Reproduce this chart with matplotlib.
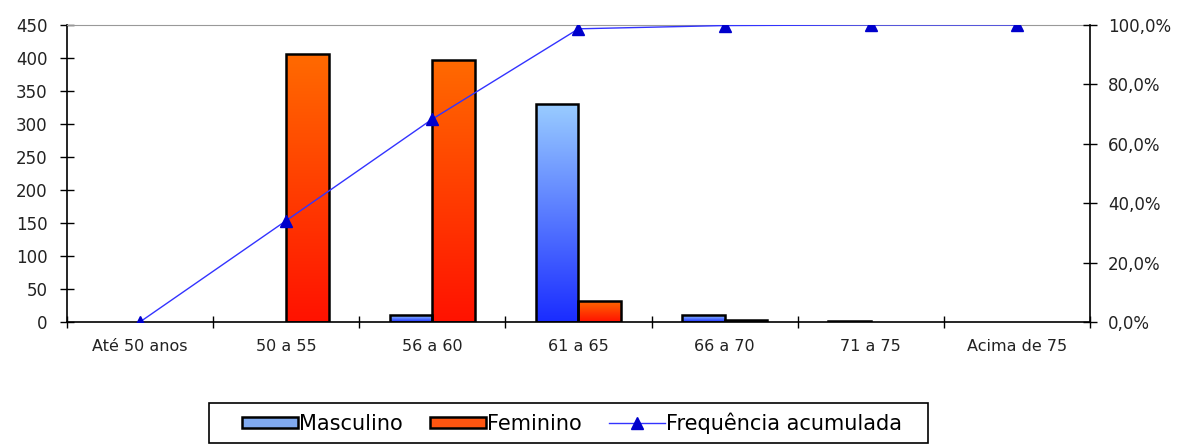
import numpy as np
import matplotlib
matplotlib.use('Agg')
from matplotlib import pyplot as plt
from matplotlib.patches import Patch, Rectangle
from matplotlib.lines import Line2D
from matplotlib.colors import LinearSegmentedColormap
from matplotlib.ticker import FuncFormatter

plt.rcParams['font.family'] = ['DejaVu Sans']

categorias = ['Até 50 anos', '50 a 55', '56 a 60', '61 a 65', '66 a 70', '71 a 75', 'Acima de 75']
masculino = [0, 0, 10, 330, 10, 2, 0]
feminino = [0, 406, 397, 32, 3, 0, 0]
freq_acumulada = [0.0, 34.1, 68.3, 98.7, 99.8, 100.0, 100.0]

cmap_masc = LinearSegmentedColormap.from_list('masc', ['#1a2cff', '#99ccff'])
cmap_fem = LinearSegmentedColormap.from_list('fem', ['#ff1200', '#ff6a00'])

fig = plt.figure(figsize=(11.83, 4.44), dpi=100)
ax = fig.add_axes([0.0566, 0.275, 0.8648, 0.6688])

x = np.arange(len(categorias))
w = 0.29
bars_m = ax.bar(x - w / 2, masculino, w, facecolor='none', edgecolor='black', linewidth=1.8, zorder=3)
bars_f = ax.bar(x + w / 2, feminino, w, facecolor='none', edgecolor='black', linewidth=1.8, zorder=3)

# gradient fill clipped to each bar
grad = np.linspace(0, 1, 256).reshape(-1, 1)
for bars, cm in [(bars_m, cmap_masc), (bars_f, cmap_fem)]:
    for b in bars:
        h = b.get_height()
        if h <= 0:
            b.set_visible(False)
            continue
        x0 = b.get_x()
        im = ax.imshow(grad, cmap=cm, origin='lower', aspect='auto',
                       extent=[x0, x0 + b.get_width(), 0, h], zorder=2)
        im.set_clip_path(b)

ax.set_xlim(-0.5, len(categorias) - 0.5)
ax.set_ylim(0, 450)
ax.set_yticks(np.arange(0, 451, 50))
ax.set_xticks(x)
ax.set_xticklabels(categorias)
ax.set_xticks(np.arange(-0.5, len(categorias) + 0.5, 1), minor=True)
ax.tick_params(axis='x', which='major', length=0, pad=12, labelsize=11.5, labelcolor='#222222')
ax.tick_params(axis='x', which='minor', length=8, direction='inout', width=1)
ax.tick_params(axis='y', length=10, direction='inout', width=1, labelsize=12, pad=9,
               labelcolor='#222222')
ax.spines['top'].set_color('#999999')
ax.spines['right'].set_visible(False)
for s in ['left', 'bottom']:
    ax.spines[s].set_linewidth(1.2)

ax2 = ax.twinx()
ax2.plot(x, freq_acumulada, color='#3333ff', linewidth=1, marker='^',
         markersize=9, markerfacecolor='#0000cc', markeredgecolor='#0000cc', zorder=4)
ax2.set_ylim(0, 100)
ax2.set_yticks(np.arange(0, 101, 20))
ax2.yaxis.set_major_formatter(FuncFormatter(lambda v, p: f'{v:.1f}%'.replace('.', ',')))
ax2.tick_params(axis='y', length=10, direction='inout', width=1, labelsize=12, pad=8,
                labelcolor='#222222')
ax2.spines['right'].set_linewidth(1.2)
ax2.spines['top'].set_visible(False)
ax2.spines['left'].set_visible(False)
ax2.spines['bottom'].set_visible(False)

handles = [
    Patch(facecolor='#80aaf0', edgecolor='black', linewidth=1.8, label='Masculino'),
    Patch(facecolor='#ff5510', edgecolor='black', linewidth=1.8, label='Feminino'),
    Line2D([], [], color='#3333ff', linewidth=1, marker='^', markersize=9,
           markerfacecolor='#0000cc', markeredgecolor='#0000cc', label='Frequência acumulada'),
]
leg = fig.legend(handles=handles, loc='center', bbox_to_anchor=(0.4835, 0.047), ncol=3,
                 fontsize=15, frameon=False, handlelength=2.7, handleheight=0.5,
                 handletextpad=0.05, columnspacing=1.3)

# legend box
fig.patches.append(Rectangle((209 / 1183, 1 - 443 / 444), (928 - 209) / 1183, 40 / 444,
                             transform=fig.transFigure, fill=False, edgecolor='black',
                             linewidth=1.2))

fig.savefig('out.png', dpi=100)
